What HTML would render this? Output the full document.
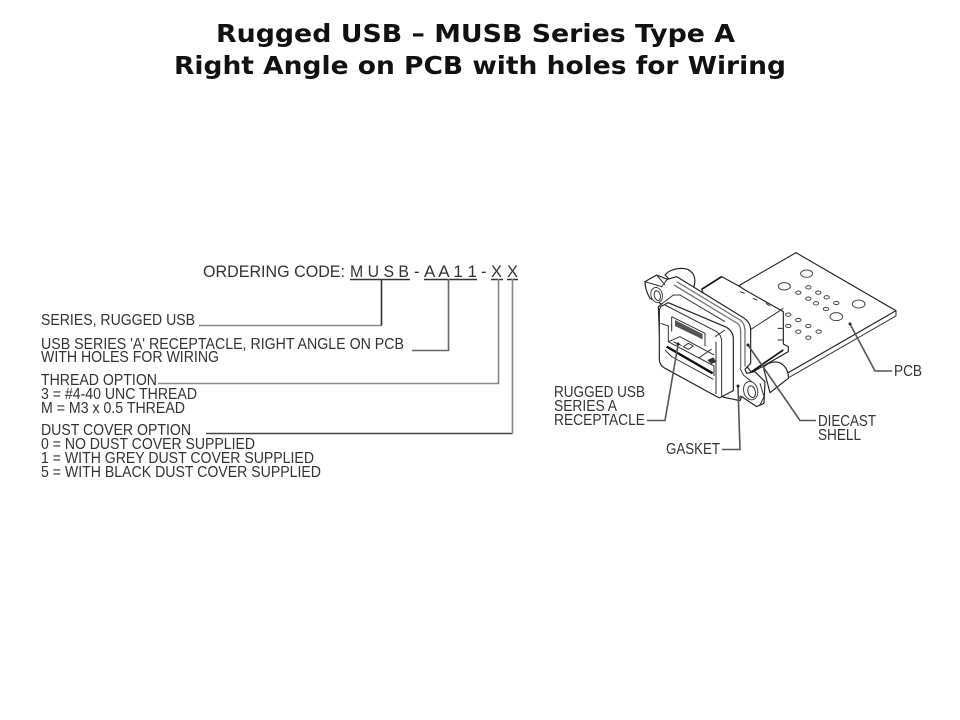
<!DOCTYPE html>
<html><head><meta charset="utf-8"><style>
html,body{margin:0;padding:0;background:#fff}
svg{display:block}
text{font-family:"Liberation Sans",sans-serif;font-size:15.5px;fill:#333}
.o{font-size:16.5px}
.t{font-family:"DejaVu Sans",sans-serif;font-weight:700;font-size:25px;fill:#111}
.l{stroke:#555;stroke-width:1.6;fill:none}
.d{fill:#fff;stroke:#222;stroke-width:3.5;stroke-linejoin:round}
.n{fill:none;stroke:#333;stroke-width:3}
.g{fill:none;stroke:#777;stroke-width:4}
.h{fill:#fff;stroke:#444;stroke-width:3}
</style></head><body>
<svg width="960" height="720" viewBox="0 0 960 720" xmlns="http://www.w3.org/2000/svg">
<text class="t" x="216" y="42" textLength="519" lengthAdjust="spacingAndGlyphs">Rugged USB – MUSB Series Type A</text>
<text class="t" x="174" y="74" textLength="612" lengthAdjust="spacingAndGlyphs">Right Angle on PCB with holes for Wiring</text>

<text class="o" x="203" y="277" textLength="142" lengthAdjust="spacingAndGlyphs">ORDERING CODE:</text>
<text class="o" x="350" y="277" textLength="59" lengthAdjust="spacingAndGlyphs">M U S B</text>
<text class="o" x="414" y="277">-</text>
<text class="o" x="424" y="277" textLength="53" lengthAdjust="spacingAndGlyphs">A A 1 1</text>
<text class="o" x="481" y="277">-</text>
<text class="o" x="491" y="277">X</text>
<text class="o" x="507" y="277">X</text>
<text x="41" y="325" textLength="154" lengthAdjust="spacingAndGlyphs">SERIES, RUGGED USB</text>
<text x="41" y="349" textLength="363" lengthAdjust="spacingAndGlyphs">USB SERIES 'A' RECEPTACLE, RIGHT ANGLE ON PCB</text>
<text x="41" y="362" textLength="178" lengthAdjust="spacingAndGlyphs">WITH HOLES FOR WIRING</text>
<text x="41" y="385" textLength="116" lengthAdjust="spacingAndGlyphs">THREAD OPTION</text>
<text x="41" y="399" textLength="156" lengthAdjust="spacingAndGlyphs">3 = #4-40 UNC THREAD</text>
<text x="41" y="413" textLength="144" lengthAdjust="spacingAndGlyphs">M = M3 x 0.5 THREAD</text>
<text x="41" y="435" textLength="150" lengthAdjust="spacingAndGlyphs">DUST COVER OPTION</text>
<text x="41" y="449" textLength="214" lengthAdjust="spacingAndGlyphs">0 = NO DUST COVER SUPPLIED</text>
<text x="41" y="463" textLength="273" lengthAdjust="spacingAndGlyphs">1 = WITH GREY DUST COVER SUPPLIED</text>
<text x="41" y="477" textLength="280" lengthAdjust="spacingAndGlyphs">5 = WITH BLACK DUST COVER SUPPLIED</text>

<g class="l">
<path d="M350 279.500H410M424 279.500H477M491 279.500H503M507 279.500H518" stroke="#333"/>
<path d="M199 325.500H381.500" stroke="#888"/>
<path d="M381.500 325.500V279" stroke="#333"/>
<path d="M412 350.500H448.500V279" stroke="#666"/>
<path d="M158 383.500H498.500V279" stroke="#888"/>
<path d="M206 433.500H512.500" stroke="#444"/>
<path d="M512.500 433.500V279" stroke="#888"/>
</g>

<g transform="translate(630 240) scale(.3333)" style="filter:blur(.9px)">
<!-- PCB -->
<path class="d" d="M330 135L498 38L798 212L475 398L300 300Z"/>
<path class="n" d="M798 212V228L478 412"/>
<g class="h">
<ellipse cx="463" cy="139" rx="18" ry="11"/><ellipse cx="530" cy="101" rx="18" ry="11"/>
<ellipse cx="686" cy="192" rx="19" ry="12"/><ellipse cx="619" cy="230" rx="19" ry="12"/>
<ellipse cx="535" cy="142" rx="8" ry="5"/><ellipse cx="505" cy="158" rx="8" ry="5"/>
<ellipse cx="565" cy="158" rx="8" ry="5"/><ellipse cx="535" cy="176" rx="8" ry="5"/>
<ellipse cx="590" cy="172" rx="8" ry="5"/><ellipse cx="558" cy="190" rx="8" ry="5"/>
<ellipse cx="619" cy="189" rx="8" ry="5"/><ellipse cx="588" cy="207" rx="8" ry="5"/>
<ellipse cx="475" cy="224" rx="8" ry="5"/><ellipse cx="505" cy="240" rx="8" ry="5"/>
<ellipse cx="475" cy="258" rx="8" ry="5"/><ellipse cx="535" cy="258" rx="8" ry="5"/>
<ellipse cx="505" cy="275" rx="8" ry="5"/><ellipse cx="566" cy="275" rx="8" ry="5"/>
<ellipse cx="535" cy="293" rx="8" ry="5"/>
</g>
<!-- body behind -->
<path class="d" d="M215 148L275 110L330 140L345 150L460 215V312L475 320V335L365 398L260 260Z"/>
<path d="M215 148L275 110" stroke="#111" stroke-width="5" fill="none"/>
<path class="n" d="M360 270L445 215M445 215L460 205"/>
<path class="n" d="M330 155l14 5M368 175l14 5M408 190l12 8M443 265h15M443 300h15"/>
<path d="M365 395L460 330" stroke="#111" stroke-width="5" fill="none"/>
<!-- rear posts -->
<path class="d" d="M105 105C120 85 170 75 188 100C198 115 195 130 190 145L130 130Z"/>
<path class="d" d="M400 382C420 362 450 358 468 385C475 398 476 408 475 415L420 458Z"/>
<!-- flange -->
<path class="d" d="M45 125L80 105L112 118L140 110L335 230Q362 245 362 270V370L345 388L350 400L375 395L405 425L402 490L380 500L335 470L330 482L282 472L92 372L85 200L95 192L60 175Q45 150 45 125Z"/>
<path class="g" d="M140 125L330 240Q345 250 345 275V380M132 135L325 252Q332 260 332 275V385"/>
<path class="n" d="M95 192L130 165L150 165L285 245"/>
<path class="n" d="M45 125L95 140L112 118M80 105L105 135"/>
<path class="n" d="M330 385L340 405L365 425"/>
<ellipse class="h" cx="80" cy="165" rx="17" ry="23" transform="rotate(-15 80 165)"/>
<ellipse class="n" cx="82" cy="167" rx="9" ry="15" transform="rotate(-15 82 167)"/>
<ellipse class="h" cx="362" cy="452" rx="21" ry="28" transform="rotate(-15 362 452)"/>
<ellipse class="n" cx="365" cy="455" rx="11" ry="18" transform="rotate(-15 365 455)"/>
<path class="n" d="M390 430L402 470L390 495"/>
<path class="n" d="M325 480l6-12 8 4"/>
<!-- front face -->
<path class="d" d="M92 200L115 188L290 262Q310 275 310 295V452L268 474L105 385Q88 375 88 358V210Z"/>
<path class="n" d="M105 195L260 275Q275 285 275 305V470"/>
<path class="n" d="M258 305V462"/>
<path class="n" d="M255 290L285 270"/>
<!-- opening -->
<path class="n" d="M125 230L225 280V318M125 230V275"/>
<path d="M135 240L218 282V298L135 258Z" fill="#555"/>
<path class="n" d="M92 250L115 258V305L252 378V408"/>
<path class="n" d="M115 305L150 290L252 345"/>
<path d="M110 320L248 400" stroke="#111" stroke-width="7" fill="none"/>
<path class="n" d="M105 330L125 350L250 418"/>
<path class="n" d="M160 320l15-10 15 8-15 10ZM205 355l40-28M130 305l25 12"/>
<path d="M232 360l18-8 9 14-15 6Z" fill="#333"/>
</g>

<!-- leader lines -->
<g class="l" stroke="#444">
<path d="M850 324L875 371H892"/>
<path d="M748 345L800 420.500H816"/>
<path d="M678 345L665 420.500H647"/>
<path d="M738 387L740 449.500H722"/>
</g>
<g fill="#222">
<circle cx="850" cy="324" r="1.5"/><circle cx="748" cy="345" r="1.5"/><circle cx="678" cy="344" r="1.500"/><circle cx="738" cy="386" r="1.500"/>
</g>

<text x="894" y="376" textLength="28" lengthAdjust="spacingAndGlyphs">PCB</text>
<text x="818" y="426" textLength="58" lengthAdjust="spacingAndGlyphs">DIECAST</text>
<text x="818" y="440" textLength="43" lengthAdjust="spacingAndGlyphs">SHELL</text>
<text x="554" y="397" textLength="91" lengthAdjust="spacingAndGlyphs">RUGGED USB</text>
<text x="554" y="411" textLength="63" lengthAdjust="spacingAndGlyphs">SERIES A</text>
<text x="554" y="425" textLength="91" lengthAdjust="spacingAndGlyphs">RECEPTACLE</text>
<text x="666" y="454" textLength="54" lengthAdjust="spacingAndGlyphs">GASKET</text>
</svg>
</body></html>
